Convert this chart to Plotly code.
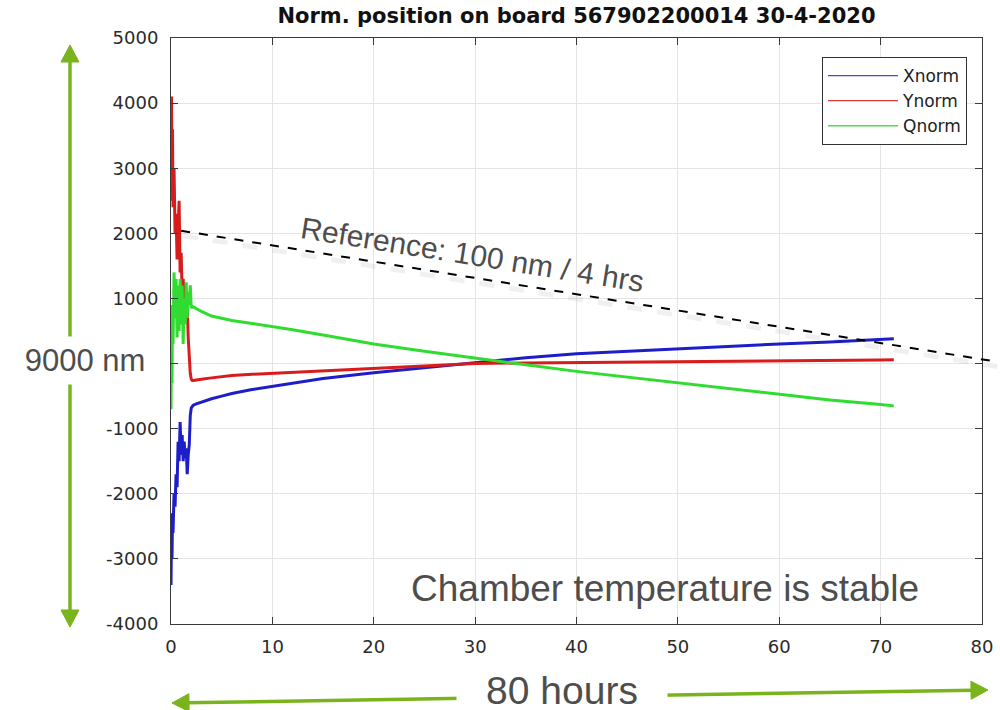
import plotly.graph_objects as go

# ---------------- data ----------------
hours = [0, 0.05, 0.1, 0.15, 0.2, 0.3, 0.4, 0.5, 0.6, 0.7, 0.8, 0.9, 1.0, 1.1, 1.2, 1.3,
         1.4, 1.5, 1.6, 1.7, 1.8, 1.9, 2.0, 2.1, 2.2, 2.5, 3, 4, 5, 6, 8, 10, 12, 15,
         20, 25, 30, 35, 40, 45, 50, 55, 60, 65, 70, 71.3]

xnorm = [-3400, -2600, -3000, -2300, -2600, -2000, -2200, -1700, -1900, -1200, -1500,
         -900, -1400, -1100, -1500, -1200, -1450, -1300, -1700, -1400, -1250, -800,
         -680, -660, -640, -620, -590, -540, -500, -460, -400, -350, -300, -230, -140,
         -60, 20, 90, 150, 190, 230, 260, 300, 330, 365, 380]

ynorm = [2500, 4100, 2900, 3600, 2400, 3000, 2000, 2300, 1600, 2000, 2500, 1400, 1700,
         1100, 1300, 900, 1100, 700, 900, 400, 100, -150, -240, -260, -260, -250, -240,
         -220, -200, -185, -165, -150, -130, -110, -80, -40, 0, 10, 15, 20, 25, 30, 40,
         50, 55, 60]

qnorm = [-700, 500, -300, 900, 300, 1400, 700, 1300, 400, 1200, 500, 1300, 600, 1200,
         300, 1000, 600, 1250, 700, 1100, 900, 1200, 850, 880, 870, 840, 800, 730, 690,
         660, 615, 570, 520, 440, 300, 190, 80, -20, -120, -210, -300, -390, -480, -560,
         -630, -650]

series_names = ["Xnorm", "Ynorm", "Qnorm"]

x_tick_vals = [0, 10, 20, 30, 40, 50, 60, 70, 80]
x_tick_labels = ["0", "10", "20", "30", "40", "50", "60", "70", "80"]
y_tick_vals = [-4000, -3000, -2000, -1000, 0, 1000, 2000, 3000, 4000, 5000]
y_tick_labels = ["-4000", "-3000", "-2000", "-1000", "0", "1000", "2000", "3000", "4000", "5000"]

# reference slope line: 100 nm / 4 hrs
ref_hours = [1.0, 81.3]
ref_values = [2040, 2040 - 25 * 80.3]

title_text = "Norm. position on board 567902200014 30-4-2020"
ref_label = "Reference: 100 nm / 4 hrs"
chamber_label = "Chamber temperature is stable"
span_y_label = "9000 nm"
span_x_label = "80 hours"

# ---------------- styling ----------------
W, H = 1000, 710
PL, PR, PT, PB = 171, 982, 38, 624
X_RANGE = [0, 80]
Y_RANGE = [-4000, 5000]

colors = {"Xnorm": "#1e1ec8", "Ynorm": "#d81c1c", "Qnorm": "#30dc30"}
legend_colors = {"Xnorm": "#4a4ad0", "Ynorm": "#d84040", "Qnorm": "#50dc50"}
ARROW_GREEN = "#79b41c"
TEXT_GRAY = "#4d4d4d"


def px2paper_x(p):
    return (p - PL) / (PR - PL)


def px2paper_y(p):
    return (PB - p) / (PB - PT)


def data2px(t, v):
    xp = PL + (t - X_RANGE[0]) / (X_RANGE[1] - X_RANGE[0]) * (PR - PL)
    yp = PB - (v - Y_RANGE[0]) / (Y_RANGE[1] - Y_RANGE[0]) * (PB - PT)
    return xp, yp


fig = go.Figure()

for name, vals in zip(series_names, [xnorm, ynorm, qnorm]):
    fig.add_trace(go.Scatter(x=hours, y=vals, mode="lines", name=name,
                             line=dict(color=colors[name], width=3),
                             showlegend=False))
# legend samples (thin lines like the original)
for name in series_names:
    fig.add_trace(go.Scatter(x=[None], y=[None], mode="lines", name=name,
                             line=dict(color=legend_colors[name], width=1.3)))

shapes = []

# dashed reference line (with soft shadow), allowed to run past the frame
(x0, y0) = data2px(ref_hours[0], ref_values[0])
(x1, y1) = data2px(ref_hours[1], ref_values[1])
shapes.append(dict(type="line", xref="paper", yref="paper",
                   x0=px2paper_x(x0 + 2), y0=px2paper_y(y0 + 5),
                   x1=px2paper_x(x1 + 2), y1=px2paper_y(y1 + 5),
                   line=dict(color="rgba(0,0,0,0.06)", width=5, dash="dash")))
shapes.append(dict(type="line", xref="paper", yref="paper",
                   x0=px2paper_x(x0), y0=px2paper_y(y0),
                   x1=px2paper_x(x1), y1=px2paper_y(y1),
                   line=dict(color="black", width=2, dash="dash")))


def double_arrow(p_start, p_end, head_len=17, half_w=9, width=3.5):
    import math
    (sx, sy), (ex, ey) = p_start, p_end
    dx, dy = ex - sx, ey - sy
    L = math.hypot(dx, dy)
    ux, uy = dx / L, dy / L
    nx, ny = -uy, ux
    out = []
    out.append(dict(type="line", xref="paper", yref="paper",
                    x0=px2paper_x(sx + ux * head_len * 0.8), y0=px2paper_y(sy + uy * head_len * 0.8),
                    x1=px2paper_x(ex - ux * head_len * 0.8), y1=px2paper_y(ey - uy * head_len * 0.8),
                    line=dict(color=ARROW_GREEN, width=width)))
    for (tx, ty, sgn) in [(sx, sy, 1), (ex, ey, -1)]:
        bx, by = tx + sgn * ux * head_len, ty + sgn * uy * head_len
        pts = [(tx, ty), (bx + nx * half_w, by + ny * half_w), (bx - nx * half_w, by - ny * half_w)]
        path = "M " + " L ".join(f"{px2paper_x(a):.5f},{px2paper_y(b):.5f}" for a, b in pts) + " Z"
        out.append(dict(type="path", xref="paper", yref="paper", path=path,
                        fillcolor=ARROW_GREEN, line=dict(color=ARROW_GREEN, width=1)))
    return out


shapes += double_arrow((70, 45), (70, 627))
shapes += double_arrow((172, 703), (988, 690))

annotations = [
    dict(text=ref_label, xref="paper", yref="paper",
         x=px2paper_x(472), y=px2paper_y(254), xanchor="center", yanchor="middle",
         showarrow=False, textangle=9,
         font=dict(family="Liberation Sans", size=30, color=TEXT_GRAY)),
    dict(text=chamber_label, xref="paper", yref="paper",
         x=px2paper_x(665), y=px2paper_y(588), xanchor="center", yanchor="middle",
         showarrow=False,
         font=dict(family="Liberation Sans", size=37, color=TEXT_GRAY)),
    dict(text=span_y_label, xref="paper", yref="paper",
         x=px2paper_x(85), y=px2paper_y(360), xanchor="center", yanchor="middle",
         showarrow=False, bgcolor="white", borderpad=6, width=150, align="center",
         font=dict(family="Liberation Sans", size=31, color=TEXT_GRAY)),
    dict(text=span_x_label, xref="paper", yref="paper",
         x=px2paper_x(562), y=px2paper_y(690), xanchor="center", yanchor="middle",
         showarrow=False, bgcolor="white", borderpad=0, width=210, height=36,
         align="center", valign="middle",
         font=dict(family="Liberation Sans", size=39, color=TEXT_GRAY)),
]

axis_common = dict(showline=True, linecolor="#3a3a3a", linewidth=1, mirror="allticks",
                   ticks="inside", ticklen=7, tickcolor="#3a3a3a", tickwidth=1,
                   showgrid=True, gridcolor="#e4e4e4", gridwidth=1, zeroline=False,
                   tickfont=dict(family="DejaVu Sans", size=18, color="#2a2a2a"))

fig.update_layout(
    width=W, height=H,
    margin=dict(l=PL, r=W - PR, t=PT, b=H - PB, autoexpand=False),
    paper_bgcolor="white", plot_bgcolor="white",
    title=dict(text=title_text, x=0.5, xref="paper", xanchor="center",
               y=1 - 16 / H, yref="container", yanchor="middle",
               font=dict(family="DejaVu Sans", size=21, color="#111111", weight="bold")),
    xaxis=dict(range=X_RANGE, tickvals=x_tick_vals, ticktext=x_tick_labels,
               ticklabelstandoff=6, **axis_common),
    yaxis=dict(range=Y_RANGE, tickvals=y_tick_vals, ticktext=y_tick_labels,
               ticklabelstandoff=8, **axis_common),
    legend=dict(x=px2paper_x(967), y=px2paper_y(57), xanchor="right", yanchor="top",
                bgcolor="white", bordercolor="#333333", borderwidth=1,
                itemwidth=70, font=dict(family="DejaVu Sans", size=17, color="#222222"),
                tracegroupgap=0),
    shapes=shapes,
    annotations=annotations,
    showlegend=True,
)

fig.write_html("out.html")
